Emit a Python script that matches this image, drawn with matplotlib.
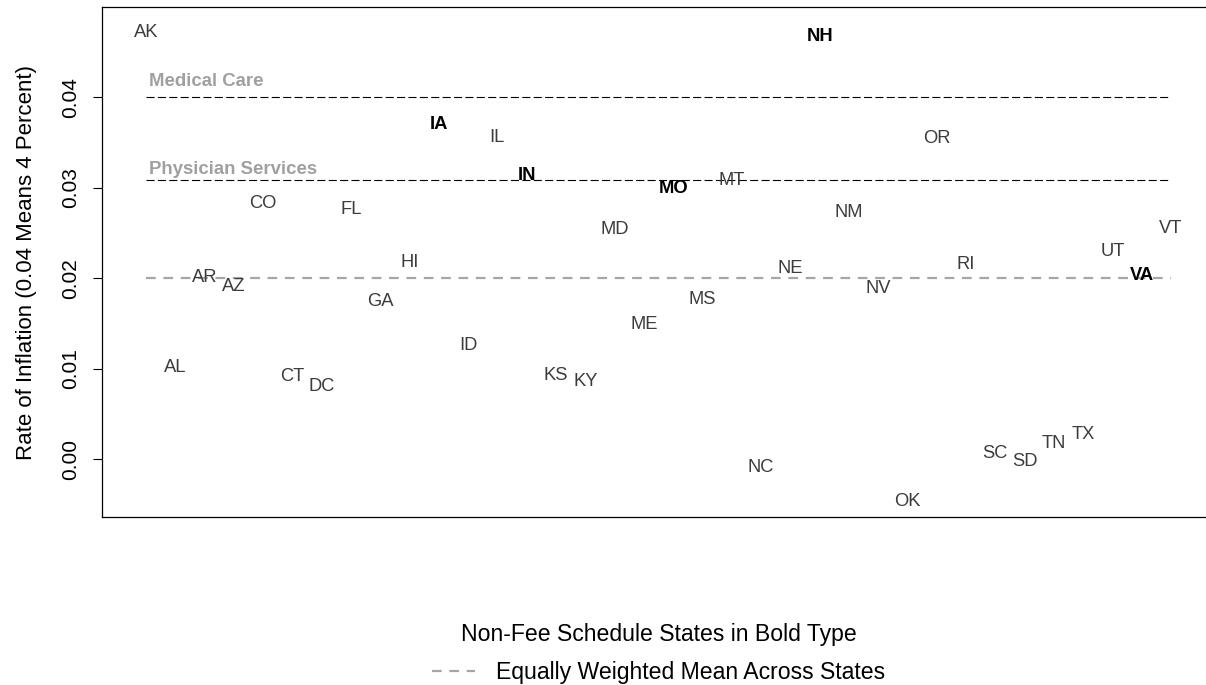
import numpy as np
import matplotlib
matplotlib.use('Agg')
import matplotlib.pyplot as plt
from matplotlib.lines import Line2D

plt.rcParams['font.family'] = ['Liberation Sans', 'DejaVu Sans']
plt.rcParams['lines.scale_dashes'] = False

# state abbreviations in plotting order (alphabetical)
states = ['AK', 'AL', 'AR', 'AZ', 'CO', 'CT', 'DC', 'FL', 'GA', 'HI',
          'IA', 'ID', 'IL', 'IN', 'KS', 'KY', 'MD', 'ME', 'MO', 'MS',
          'MT', 'NC', 'NE', 'NH', 'NM', 'NV', 'OK', 'OR', 'RI', 'SC',
          'SD', 'TN', 'TX', 'UT', 'VA', 'VT']
inflation = [0.0474, 0.01035, 0.0203, 0.01936, 0.02854, 0.0094, 0.00822, 0.02788, 0.0177, 0.02194,
             0.03724, 0.01275, 0.0358, 0.03164, 0.00951, 0.00877, 0.02566, 0.01515, 0.03015, 0.01792,
             0.0310, -0.00074, 0.0213, 0.04693, 0.02747, 0.0191, -0.0045, 0.03569, 0.02175, 0.00084,
             0.0, 0.00195, 0.00299, 0.02315, 0.0205, 0.02573]
# non-fee schedule states (bold)
non_fee = ['IA', 'IN', 'MO', 'NH', 'VA']

medical_care = 0.0400
physician_services = 0.0309
state_mean = 0.0200

yticks = [0.00, 0.01, 0.02, 0.03, 0.04]

W, H = 1206, 685
fig = plt.figure(figsize=(W / 100, H / 100), dpi=100)
# axes box runs a little past the right edge of the picture
ax = fig.add_axes([102 / W, (H - 517) / H, (1215 - 102) / W, (517 - 7) / H])

x = np.arange(1, len(states) + 1)
for xi, st, val in zip(x, states, inflation):
    if st in non_fee:
        ax.text(xi, val, st, ha='center', va='center_baseline', fontsize=13.2,
                fontweight='bold', color='black')
    else:
        ax.text(xi, val, st, ha='center', va='center_baseline', fontsize=13.2,
                color='#3c3c3c')

ax.plot([x[0], x[-1]], [medical_care] * 2, color='black', lw=0.8, dashes=(5.8, 2.4))
ax.plot([x[0], x[-1]], [physician_services] * 2, color='black', lw=0.8, dashes=(5.8, 2.4))
ax.plot([x[0], x[-1]], [state_mean] * 2, color='#a6a6a6', lw=1.6, dashes=(7, 5.5))

ax.annotate('Medical Care', (x[0], medical_care), xytext=(2, 8), textcoords='offset points',
            ha='left', va='baseline', fontsize=13.4, fontweight='bold', color='#a0a0a0')
ax.annotate('Physician Services', (x[0], physician_services), xytext=(2, 4.5),
            textcoords='offset points', ha='left', va='baseline', fontsize=13.4,
            fontweight='bold', color='#a0a0a0')

ax.set_xlim(-0.5, 37.5)
ax.set_ylim(-0.00638, 0.0500)
ax.set_xticks([])
ax.set_yticks(yticks)
ax.set_yticklabels([f'{t:.2f}' for t in yticks])
ax.tick_params(axis='y', length=6.5, width=0.8, labelsize=15, pad=9)
for lab in ax.get_yticklabels():
    lab.set_rotation(90)
    lab.set_va('center')
for sp in ax.spines.values():
    sp.set_linewidth(0.9)

ax.set_ylabel('Rate of Inflation (0.04 Means 4 Percent)', fontsize=16)
ax.yaxis.set_label_coords(-0.058, 0.5)

handle = Line2D([], [], color='#a6a6a6', lw=1.6, dashes=(7, 5.5))
leg = ax.legend([handle], ['Equally Weighted Mean Across States'],
                title='Non-Fee Schedule States in Bold Type',
                loc='upper center', bbox_to_anchor=(0.5, -0.19), frameon=False,
                fontsize=16.6, title_fontsize=16.6, handlelength=1.9,
                handletextpad=0.9, labelspacing=0.63, borderaxespad=0)

fig.savefig('out.png', dpi=100)
